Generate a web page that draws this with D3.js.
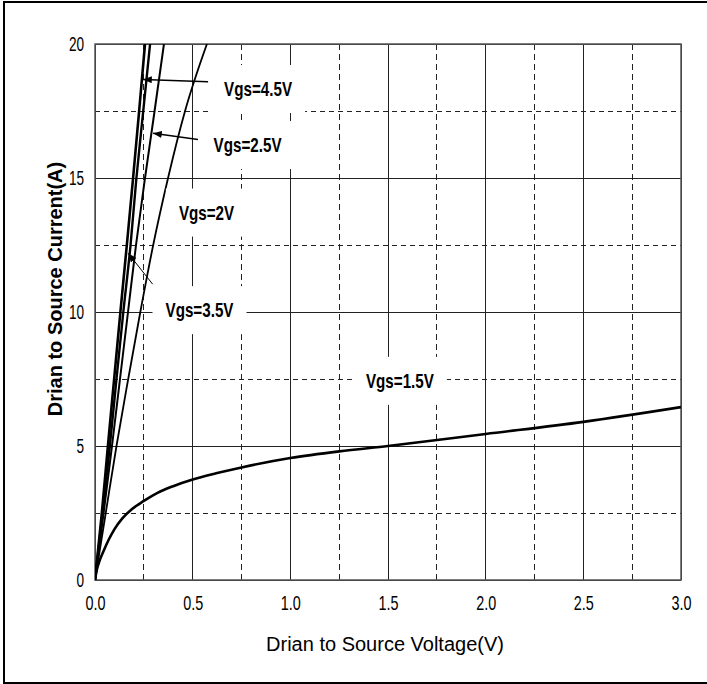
<!DOCTYPE html>
<html>
<head>
<meta charset="utf-8">
<script src="https://cdn.jsdelivr.net/npm/d3@7"></script>
<style>
  body { margin: 0; background: #fff; }
  text { font-family: "Liberation Sans", Arial, sans-serif; fill: #000; }
</style>
</head>
<body>
<script>
var width = 707, height = 684;

// Id-Vds curves, [Vds (V), Id (A)]
var vgs45 = [[0,0],[0.035,2.5],[0.066,5],[0.098,7.5],[0.13,10],[0.163,12.5],[0.195,15],[0.226,17.5],[0.256,20]];
var vgs35 = [[0,0],[0.039,2.5],[0.076,5],[0.11,7.5],[0.145,10],[0.182,12.5],[0.212,15],[0.247,17.5],[0.282,20]];
var vgs25 = [[0,0],[0.044,2.5],[0.087,5],[0.128,7.5],[0.169,10],[0.21,12.5],[0.256,15],[0.305,17.5],[0.353,20]];
var vgs20 = [[0,0],[0.055,2.5],[0.11,5],[0.17,7.5],[0.232,10],[0.298,12.5],[0.374,15],[0.461,17.5],[0.573,20]];
var vgs15 = [[0,0],[0.01,0.4],[0.025,0.75],[0.045,1.1],[0.07,1.5],[0.1,1.9],[0.14,2.3],[0.19,2.65],[0.25,2.95],
  [0.32,3.25],[0.4,3.5],[0.5,3.75],[0.62,3.98],[0.75,4.2],[1.0,4.55],[1.25,4.8],[1.5,5.0],[2.0,5.45],[2.5,5.9],[3.0,6.45]];

var xTicks = [0, 0.5, 1, 1.5, 2, 2.5, 3];
var xMinor = [0.25, 0.75, 1.25, 1.75, 2.25, 2.75];
var yTicks = [0, 5, 10, 15, 20];
var yMinor = [2.5, 7.5, 12.5, 17.5];

// labels: text, centre [V, A]; arrows: from [V, A] to tip [V, A]
var labels = [
  {text: "Vgs=4.5V", at: [0.835, 18.32]},
  {text: "Vgs=2.5V", at: [0.781, 16.23]},
  {text: "Vgs=2V",   at: [0.571, 13.71]},
  {text: "Vgs=3.5V", at: [0.535, 10.07]},
  {text: "Vgs=1.5V", at: [1.561, 7.43]}
];
var arrows = [
  {from: [0.579, 18.59], to: [0.246, 18.68], w: 1.5},
  {from: [0.527, 16.44], to: [0.297, 16.67], w: 1.5},
  {from: [0.295, 11.04], to: [0.170, 12.19], w: 1}
];

var x = d3.scaleLinear().domain([0, 3]).range([95, 681]);
var y = d3.scaleLinear().domain([0, 20]).range([580, 44]);

var svg = d3.select("body").append("svg").attr("width", width).attr("height", height);

// outer frame
svg.append("rect").attr("x", 4).attr("y", 2).attr("width", 720).attr("height", 681)
  .attr("fill", "none").attr("stroke", "#000").attr("stroke-width", 2);

svg.append("defs").append("clipPath").attr("id", "plot")
  .append("rect").attr("x", x(0)).attr("y", y(20)).attr("width", x(3) - x(0)).attr("height", y(0) - y(20));

var grid = svg.append("g").attr("shape-rendering", "crispEdges");
grid.selectAll(".vminor").data(xMinor).enter().append("line")
  .attr("x1", x).attr("x2", x).attr("y1", y(0)).attr("y2", y(20))
  .attr("stroke", "#222").attr("stroke-dasharray", "6,4");
grid.selectAll(".hminor").data(yMinor).enter().append("line")
  .attr("x1", x(0)).attr("x2", x(3)).attr("y1", y).attr("y2", y)
  .attr("stroke", "#222").attr("stroke-dasharray", "5,4");
grid.selectAll(".vmajor").data(xTicks).enter().append("line")
  .attr("x1", x).attr("x2", x).attr("y1", y(0)).attr("y2", y(20))
  .attr("stroke", "#222");
grid.selectAll(".hmajor").data(yTicks).enter().append("line")
  .attr("x1", x(0)).attr("x2", x(3)).attr("y1", y).attr("y2", y)
  .attr("stroke", "#222");

// plot border
svg.append("rect").attr("x", x(0)).attr("y", y(20)).attr("width", x(3) - x(0)).attr("height", y(0) - y(20))
  .attr("fill", "none").attr("stroke", "#555").attr("stroke-width", 1.5);

// label boxes hide the grid behind them
var lab = svg.selectAll(".lab").data(labels).enter().append("g")
  .attr("transform", function(d) { return "translate(" + x(d.at[0]) + "," + y(d.at[1]) + ")"; });
lab.append("text")
  .attr("text-anchor", "middle").attr("dy", "0.36em")
  .attr("transform", "scale(0.76,1)")
  .style("font-size", "20px").style("font-weight", "bold")
  .text(function(d) { return d.text; });
lab.insert("rect", "text")
  .attr("fill", "#fff")
  .attr("x", function() { var w = this.parentNode.querySelector("text").getComputedTextLength() * 0.76; return -w / 2 - 13; })
  .attr("width", function() { var w = this.parentNode.querySelector("text").getComputedTextLength() * 0.76; return w + 26; })
  .attr("y", -24).attr("height", 48);

var line = d3.line().x(function(d) { return x(d[0]); }).y(function(d) { return y(d[1]); })
  .curve(d3.curveMonotoneX);

var curves = [
  {pts: vgs15, w: 2.6},
  {pts: vgs20, w: 1.8},
  {pts: vgs25, w: 2},
  {pts: vgs35, w: 2.4},
  {pts: vgs45, w: 2.6}
];
svg.append("g").attr("clip-path", "url(#plot)")
  .selectAll("path").data(curves).enter().append("path")
  .attr("d", function(d) { return line(d.pts); })
  .attr("fill", "none").attr("stroke", "#000")
  .attr("stroke-width", function(d) { return d.w; })
  .attr("stroke-linejoin", "round");

// raise label text above everything
lab.raise();

// arrows
svg.select("defs").append("marker").attr("id", "head")
  .attr("viewBox", "0 0 10 8").attr("refX", 10).attr("refY", 4)
  .attr("markerUnits", "userSpaceOnUse").attr("markerWidth", 9).attr("markerHeight", 7)
  .attr("orient", "auto")
  .append("path").attr("d", "M0,0L10,4L0,8Z").attr("fill", "#000");
svg.selectAll(".arr").data(arrows).enter().append("line")
  .attr("x1", function(d) { return x(d.from[0]); }).attr("y1", function(d) { return y(d.from[1]); })
  .attr("x2", function(d) { return x(d.to[0]); }).attr("y2", function(d) { return y(d.to[1]); })
  .attr("stroke", "#000").attr("stroke-width", function(d) { return d.w; })
  .attr("marker-end", "url(#head)");

// axes
var xAxis = svg.append("g").attr("transform", "translate(0," + y(0) + ")")
  .call(d3.axisBottom(x).tickValues(xTicks).tickSize(0).tickPadding(16).tickFormat(d3.format(".1f")));
var yAxis = svg.append("g").attr("transform", "translate(" + x(0) + ",0)")
  .call(d3.axisLeft(y).tickValues(yTicks).tickSize(0).tickFormat(d3.format("d")));
xAxis.select(".domain").remove();
yAxis.select(".domain").remove();
svg.selectAll(".tick text")
  .style("font-family", "'Liberation Sans', Arial, sans-serif").style("font-size", "20px")
  .attr("fill", "#000");
xAxis.selectAll(".tick text").attr("transform", "scale(0.72,1)");
yAxis.selectAll(".tick text").attr("x", -11 / 0.68).attr("transform", "scale(0.68,1)");

// axis titles
svg.append("text").attr("x", 385).attr("y", 651).attr("text-anchor", "middle")
  .style("font-size", "20px").text("Drian to Source Voltage(V)");
svg.append("text").attr("transform", "translate(62,289) rotate(-90)").attr("text-anchor", "middle")
  .style("font-size", "20px").style("font-weight", "bold").text("Drian to Source Current(A)");
</script>
</body>
</html>
